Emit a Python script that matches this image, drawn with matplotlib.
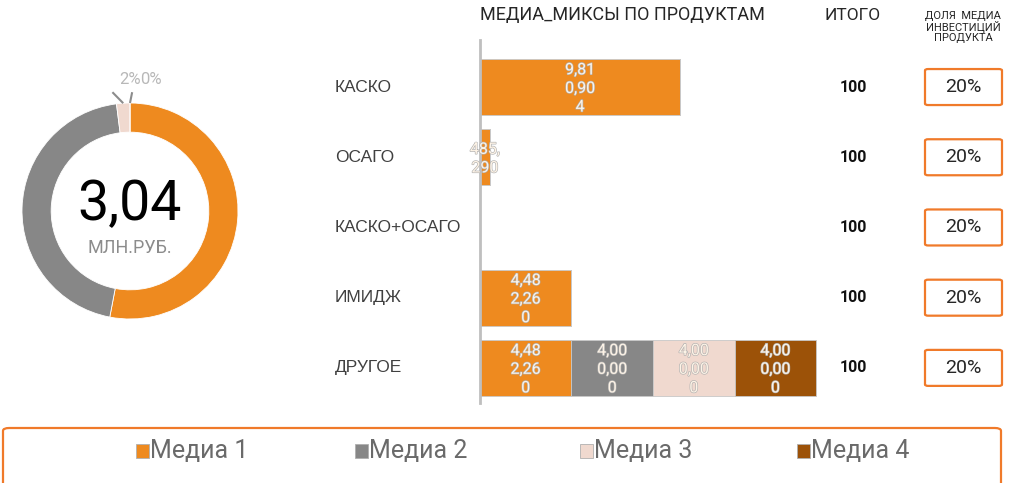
"""Media mix by product: donut of total spend plus stacked bars per product."""

import matplotlib

matplotlib.use("Agg")
import matplotlib.pyplot as plt
import matplotlib.patheffects as pe
from matplotlib.patches import FancyBboxPatch, Rectangle
from matplotlib.transforms import blended_transform_factory
import numpy as np

W, H = 1033, 483

MEDIA = ["Медиа 1", "Медиа 2", "Медиа 3", "Медиа 4"]
COLORS = ["#ee8a1f", "#878787", "#f0d9cf", "#9c5208"]

# donut: share of total spend per media, %
DONUT_SHARE = [53, 45, 2, 0]
TOTAL_MLN = 3.04

PRODUCTS = ["КАСКО", "ОСАГО", "КАСКО+ОСАГО", "ИМИДЖ", "ДРУГОЕ"]
MEDIA1 = [9810904, 485290, 0, 4482260, 4482260]
MEDIA2 = [0, 0, 0, 0, 4000000]
MEDIA3 = [0, 0, 0, 0, 4000000]
MEDIA4 = [0, 0, 0, 0, 4000000]
ITOGO = [100, 100, 100, 100, 100]
SHARE = ["20%", "20%", "20%", "20%", "20%"]

ORANGE_LINE = "#f07a2a"
INK = "#262626"
FONT = "Roboto"


def box(x0, y0, x1, y1):
    """Pixel box (top-left origin) -> figure fraction rect."""
    return [x0 / W, 1 - y1 / H, (x1 - x0) / W, (y1 - y0) / H]


def wrap_label(v):
    s = f"{v:,}"
    return "\n".join(s[i:i + 4] for i in range(0, len(s), 4))


fig = plt.figure(figsize=(W / 100, H / 100), dpi=100, facecolor="white")

# ---- donut ----
dax = fig.add_axes(box(-20, 61, 280, 361))
r_px = 108
lim = 150 / r_px
wedges, _ = dax.pie(
    DONUT_SHARE, colors=COLORS, startangle=90, counterclock=False,
    wedgeprops=dict(width=0.27, edgecolor="white", linewidth=0.6),
)
dax.set_xlim(-lim, lim)
dax.set_ylim(-lim, lim)
dax.set_aspect("equal")
dax.axis("off")
dax.text(0, 0.06, f"{TOTAL_MLN:.2f}".replace(".", ","), ha="center", va="center",
         fontsize=40, family=FONT, color="black")
dax.text(0, -0.34, "МЛН.РУБ.", ha="center", va="center", fontsize=13,
         family=FONT, color="#8c8c8c")
total = sum(DONUT_SHARE)
small = [i for i, v in enumerate(DONUT_SHARE) if v / total < 0.05]
# leader-line tip / label offsets for the thin slices
line_dx = {2: -0.10, 3: 0.02}
label_dx = {2: 0.06, 3: 0.19}
for i in small:
    w = wedges[i]
    ang = np.deg2rad((w.theta1 + w.theta2) / 2)
    x0, y0 = np.cos(ang), np.sin(ang)
    dax.plot([x0, x0 + line_dx[i]], [y0, 1.10], color="#8c8c8c", lw=1.5,
             solid_capstyle="butt")
    dax.text(x0 + label_dx[i], 1.215, f"{DONUT_SHARE[i] / total:.0%}",
             ha="center", va="center", fontsize=12, family=FONT, color="#b8b8b8")

# ---- stacked bars ----
ax = fig.add_axes(box(480, 40, 888, 403))
ax.set_xlim(0, 2.0e7)
ax.set_ylim(4.5, -0.67)
y = np.arange(len(PRODUCTS))
left = np.zeros(len(PRODUCTS))
for name, vals, col in zip(MEDIA, [MEDIA1, MEDIA2, MEDIA3, MEDIA4], COLORS):
    vals = np.array(vals, dtype=float)
    ax.barh(y, vals, left=left, height=0.8, color=col, edgecolor="#c8c8c8",
            linewidth=0.6)
    for yi, (l, v) in enumerate(zip(left, vals)):
        if v > 0:
            ax.text(l + v / 2, yi + 0.02, wrap_label(int(v)), ha="center", va="center",
                    fontsize=11.5, family=FONT, color="#fdf3e6", linespacing=1.3,
                    path_effects=[pe.withStroke(linewidth=0.9, foreground="#b0b0b0")])
    left += vals
for s in ["top", "right", "bottom"]:
    ax.spines[s].set_visible(False)
ax.spines["left"].set_color("#bfbfbf")
ax.spines["left"].set_linewidth(2)
ax.set_xticks([])
ax.set_yticks([])
ax.patch.set_alpha(0)

row = blended_transform_factory(fig.transFigure, ax.transData)
for yi, name in enumerate(PRODUCTS):
    fig.text(335 / W, yi, name, transform=row, ha="left", va="center",
             fontsize=12.5, color="#404040", family="Liberation Sans")
    fig.text(853 / W, yi, str(ITOGO[yi]), transform=row, ha="center", va="center",
             fontsize=11.5, color="#111111", family=FONT, fontweight="bold")
    fig.text(963 / W, yi, SHARE[yi], transform=row, ha="center", va="center",
             fontsize=14, color=INK, family=FONT)
    # framed share cell
    cy = ax.transData.transform((0, yi))[1] / H
    fig.patches.append(FancyBboxPatch(
        (925 / W, cy - 18 / H), 77 / W, 36 / H, transform=fig.transFigure,
        boxstyle="round,pad=0,rounding_size=0.003", facecolor="none",
        edgecolor=ORANGE_LINE, linewidth=1.6))

fig.text(622 / W, 1 - 15 / H, "МЕДИА_МИКСЫ ПО ПРОДУКТАМ", ha="center", va="center",
         fontsize=13, color=INK, family=FONT)
fig.text(853 / W, 1 - 15 / H, "ИТОГО", ha="center", va="center",
         fontsize=12.5, color=INK, family=FONT)
fig.text(963 / W, 1 - 27 / H, "ДОЛЯ  МЕДИА\nИНВЕСТИЦИЙ\nПРОДУКТА", ha="center",
         va="center", fontsize=8, color=INK, family=FONT, linespacing=0.95)

# ---- legend frame ----
fig.patches.append(FancyBboxPatch(
    (3 / W, -20 / H), 998 / W, (55 + 20) / H, transform=fig.transFigure,
    boxstyle="round,pad=0,rounding_size=0.006", facecolor="none",
    edgecolor=ORANGE_LINE, linewidth=1.6, clip_on=False))
for x0, name, col in zip([136, 355, 580, 797], MEDIA, COLORS):
    fig.patches.append(Rectangle((x0 / W, 1 - 458 / H), 13 / W, 14 / H,
                                 transform=fig.transFigure, facecolor=col,
                                 edgecolor="#b0b0b0", linewidth=0.6))
    fig.text((x0 + 14) / W, 1 - 451 / H, name, ha="left", va="center",
             fontsize=18, color="#6a6a6a", family=FONT)

fig.savefig("out.png", dpi=100, facecolor="white")
